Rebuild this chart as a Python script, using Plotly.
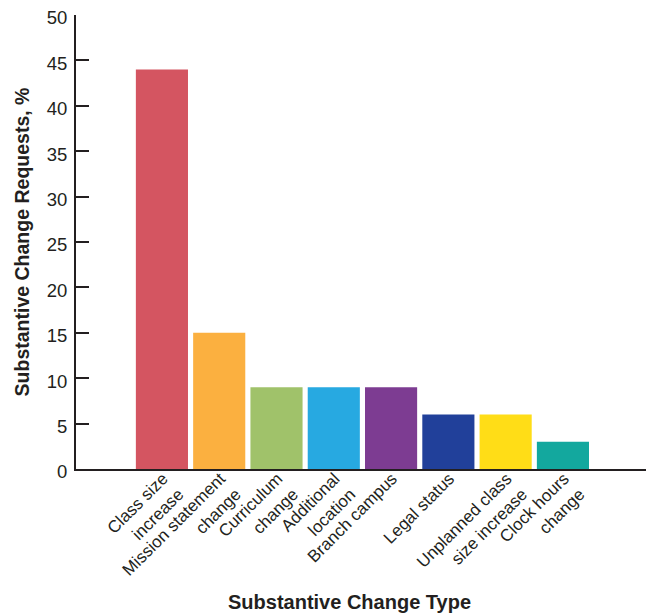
import plotly.graph_objects as go

categories = ["Class size<br>increase", "Mission statement<br>change", "Curriculum<br>change",
              "Additional<br>location", "Branch campus", "Legal status",
              "Unplanned class<br>size increase", "Clock hours<br>change"]
values = [44, 15, 9, 9, 9, 6, 6, 3]
colors = ["#D45561", "#FBB040", "#A0C26A", "#27A9E1", "#7D3C92", "#21409A", "#FFDD17", "#13A89E"]
y_ticks = [0, 5, 10, 15, 20, 25, 30, 35, 40, 45, 50]

ink = "#231F20"
xs = list(range(len(categories)))

fig = go.Figure(go.Bar(x=xs, y=values, marker=dict(color=colors, line=dict(width=0)),
                       width=0.91))

fig.update_layout(
    width=646, height=613,
    margin=dict(l=76, r=0, t=15, b=144),
    plot_bgcolor="white", paper_bgcolor="white",
    font=dict(family="Liberation Sans, Arial, sans-serif", color=ink, size=16),
    showlegend=False,
    xaxis=dict(
        tickmode="array", tickvals=xs, ticktext=categories, tickangle=-45,
        range=[-1.5, 8.45], showline=True, linecolor=ink, linewidth=2,
        ticks="", showgrid=False, zeroline=False, tickfont=dict(size=17),
        automargin=False, ticklabelstandoff=-9, ticklabelshift=1,
    ),
    yaxis=dict(
        tickmode="array", tickvals=y_ticks, range=[0, 50],
        showline=True, linecolor=ink, linewidth=2,
        ticks="inside", ticklen=13, tickwidth=2, tickcolor=ink,
        showgrid=False, zeroline=False, tickfont=dict(size=18.5),
        ticklabelstandoff=3, ticklabelshift=3, automargin=False,
        title=dict(text="<b>Substantive Change Requests, %</b>", font=dict(size=19.5), standoff=12),
    ),
    annotations=[dict(
        text="<b>Substantive Change Type</b>", xref="paper", yref="paper",
        x=0.479, y=-0.293, xanchor="center", yanchor="middle", showarrow=False,
        font=dict(size=20, color=ink),
    )],
)

fig.write_html("out.html")
